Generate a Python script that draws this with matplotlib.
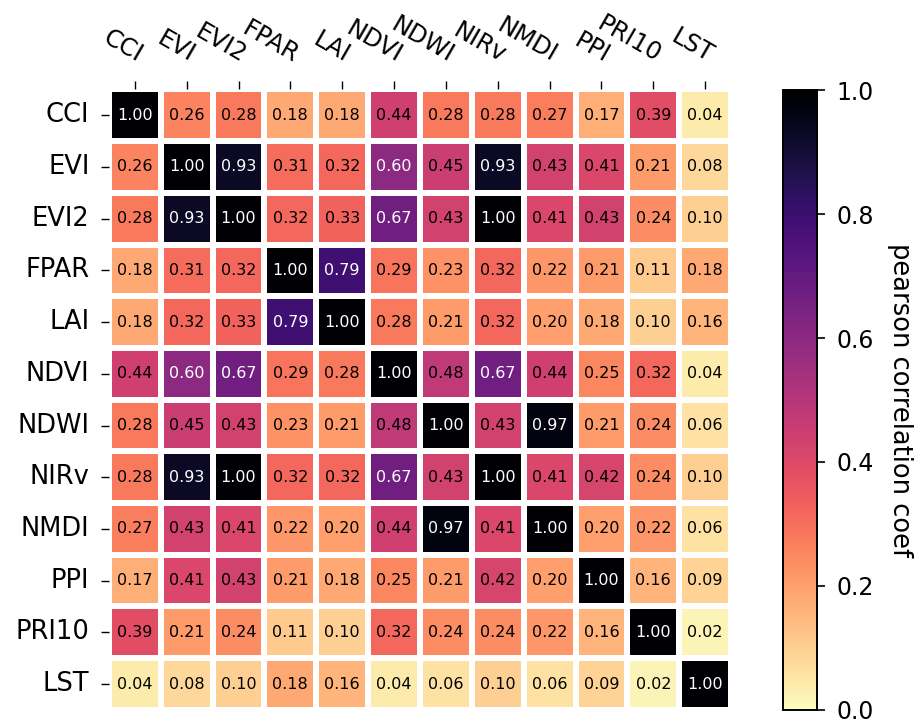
import numpy as np
import matplotlib
matplotlib.use('agg')
import matplotlib.pyplot as plt
import seaborn as sns

labels = ['CCI', 'EVI', 'EVI2', 'FPAR', 'LAI', 'NDVI', 'NDWI', 'NIRv',
          'NMDI', 'PPI', 'PRI10', 'LST']

corr = np.array([
    [1.00, 0.26, 0.28, 0.18, 0.18, 0.44, 0.28, 0.28, 0.27, 0.17, 0.39, 0.04],
    [0.26, 1.00, 0.93, 0.31, 0.32, 0.60, 0.45, 0.93, 0.43, 0.41, 0.21, 0.08],
    [0.28, 0.93, 1.00, 0.32, 0.33, 0.67, 0.43, 1.00, 0.41, 0.43, 0.24, 0.10],
    [0.18, 0.31, 0.32, 1.00, 0.79, 0.29, 0.23, 0.32, 0.22, 0.21, 0.11, 0.18],
    [0.18, 0.32, 0.33, 0.79, 1.00, 0.28, 0.21, 0.32, 0.20, 0.18, 0.10, 0.16],
    [0.44, 0.60, 0.67, 0.29, 0.28, 1.00, 0.48, 0.67, 0.44, 0.25, 0.32, 0.04],
    [0.28, 0.45, 0.43, 0.23, 0.21, 0.48, 1.00, 0.43, 0.97, 0.21, 0.24, 0.06],
    [0.28, 0.93, 1.00, 0.32, 0.32, 0.67, 0.43, 1.00, 0.41, 0.42, 0.24, 0.10],
    [0.27, 0.43, 0.41, 0.22, 0.20, 0.44, 0.97, 0.41, 1.00, 0.20, 0.22, 0.06],
    [0.17, 0.41, 0.43, 0.21, 0.18, 0.25, 0.21, 0.42, 0.20, 1.00, 0.16, 0.09],
    [0.39, 0.21, 0.24, 0.11, 0.10, 0.32, 0.24, 0.24, 0.22, 0.16, 1.00, 0.02],
    [0.04, 0.08, 0.10, 0.18, 0.16, 0.04, 0.06, 0.10, 0.06, 0.09, 0.02, 1.00],
])

fig = plt.figure(figsize=(9.19, 7.24), dpi=100)
ax = fig.add_axes([0.1185, 0.0195, 0.677, 0.857])
cax = fig.add_axes([0.852, 0.0195, 0.037, 0.856])

sns.heatmap(corr, ax=ax, cbar_ax=cax, cmap='magma_r', vmin=0, vmax=1,
            annot=False, linewidths=3, linecolor='white',
            xticklabels=labels, yticklabels=labels)

# annotations: white on dark cells, black elsewhere
for i in range(corr.shape[0]):
    for j in range(corr.shape[1]):
        v = corr[i, j]
        ax.text(j + 0.5, i + 0.5, f'{v:.2f}', ha='center', va='center',
                fontsize=11.5, color='white' if v >= 0.55 else 'black')

ax.xaxis.tick_top()
ax.tick_params(axis='y', labelsize=18.5, length=6, width=1, pad=8)
ax.tick_params(axis='x', labelsize=17.5, length=6, width=1, pad=10)
plt.setp(ax.get_xticklabels(), rotation=-30, ha='right', va='bottom',
         rotation_mode='anchor')
plt.setp(ax.get_yticklabels(), rotation=0)

cax.tick_params(labelsize=17, length=6, width=1.2, pad=8)
cax.set_yticks([0.0, 0.2, 0.4, 0.6, 0.8, 1.0])
for s in cax.spines.values():
    s.set_visible(True)
    s.set_linewidth(1.2)
cax.set_ylabel('pearson correlation coef', rotation=270, labelpad=28, fontsize=18.5)

fig.savefig('out.png', dpi=100)
